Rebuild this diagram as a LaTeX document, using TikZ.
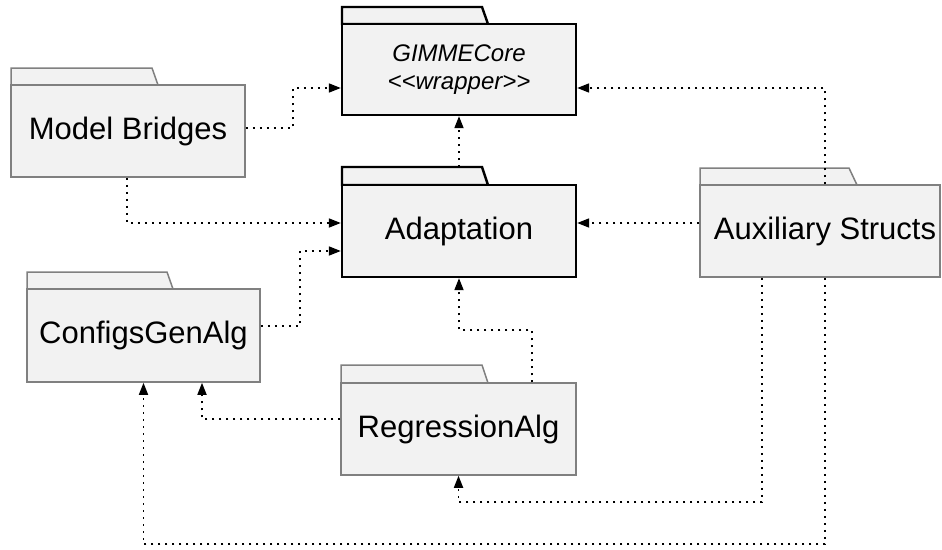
\documentclass[tikz,border=0pt]{standalone}
\usepackage{fontspec}
\setmainfont{Liberation Sans}
\usetikzlibrary{arrows.meta}
\definecolor{pkgfill}{HTML}{F2F2F2}
\definecolor{pkggray}{HTML}{808080}
\begin{document}
\begin{tikzpicture}[x=1pt,y=-1pt,
  bodybase/.style={rectangle, fill=pkgfill, inner sep=0pt, font=\fontsize{31}{37}\selectfont},
  graypkg/.style={bodybase, draw=pkggray, line width=1.5pt},
  blackpkg/.style={bodybase, draw=black, line width=2.4pt},
  graytab/.style={fill=pkgfill, draw=pkggray, line width=1.5pt, line join=miter},
  blacktab/.style={fill=pkgfill, draw=black, line width=2.4pt, line join=miter},
  dep/.style={draw=black, line width=1.7pt, dash pattern=on 2pt off 5pt, -{Triangle[length=12pt,width=9pt]}}
]
\useasboundingbox (0,0) rectangle (942,549);

% tabs
\draw[blacktab] (342,24) -- (342,7) -- (482,7) -- (488,24) -- cycle;
\draw[graytab] (11,85) -- (11,68) -- (152,68) -- (158,85) -- cycle;
\draw[blacktab] (342,185) -- (342,167) -- (482,167) -- (488,185) -- cycle;
\draw[graytab] (700,185) -- (700,168) -- (849,168) -- (857,185) -- cycle;
\draw[graytab] (27,289) -- (27,272) -- (167,272) -- (173,289) -- cycle;
\draw[graytab] (341,383) -- (341,365) -- (482,365) -- (488,383) -- cycle;

% bodies
\node[blackpkg, minimum width=234pt, minimum height=91pt, align=center,
      font=\itshape\fontsize{24}{28}\selectfont] (gc) at (459,69.5) {GIMMECore\\{<}{<}wrapper{>}{>}};
\node[graypkg, minimum width=234pt, minimum height=92pt] (mb) at (128,131) {Model Bridges};
\node[blackpkg, minimum width=234pt, minimum height=92pt] (ad) at (459,231) {Adaptation};
\node[graypkg, minimum width=240pt, minimum height=92pt] (aux) at (820,231) {\hspace*{10pt}Auxiliary Structs};
\node[graypkg, minimum width=233pt, minimum height=93pt] (cg) at (143.5,335.5) {ConfigsGenAlg};
\node[graypkg, minimum width=235pt, minimum height=92pt] (ra) at (458.5,429) {RegressionAlg};

% connectors
\draw[dep] (mb.east |- 0,128) -| (293,88) -- (gc.west |- 0,88);
\draw[dep] (mb.south -| 127,0) |- (ad.west |- 0,223);
\draw[dep] (cg.east |- 0,326) -| (300,251) -- (ad.west |- 0,251);
\draw[dep] (ad.north |- 0,167) -- (gc.south);
\draw[dep] (aux.west |- 0,223) -- (ad.east |- 0,223);
\draw[dep] (aux.north -| 825,0) |- (gc.east |- 0,88);
\draw[dep] (ra.north -| 532,0) |- (459,330) -- (ad.south);
\draw[dep] (ra.west |- 0,419) -| (cg.south -| 202,0);
\draw[dep] (aux.south -| 762,0) |- (458.5,502) -- (ra.south);
\draw[dep] (aux.south -| 825,0) |- (143.5,544) -- (cg.south);
\end{tikzpicture}
\end{document}
